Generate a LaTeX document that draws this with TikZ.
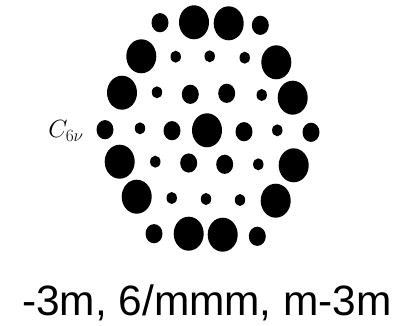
\documentclass[tikz,border=0pt]{standalone}
\usepackage{fontspec}
\setmainfont{Liberation Sans}
\begin{document}
\begin{tikzpicture}[x=1pt, y=-1pt, line join=round, line cap=round]
	\useasboundingbox (0,0) rectangle (401,326);
	\fill[white] (0,0) rectangle (401,326);
	\def \rlon{15} %large spots
	\def \hlon{17}
	\def \rvua{8.5}
	\def \hvua{9.6}
	\def \rnho{5.2}
	\def \hnho{6}
	\foreach \x/\y in {194/22.3, 228.7/23.3, 141.3/56.3, 276.3/62.3, 122/92.7, 292.7/97.7, 207/130.3, 119.7/161.7, 293.7/165.3, 136.7/196.7, 275.7/200.7, 188.7/233.7, 222.7/234.7}
		\fill (\x,\y) ellipse [x radius=\rlon, y radius=\hlon];
	\foreach \x/\y in {160/22.7, 260.3/25.3, 190.3/94.3, 226.7/93.3, 105/129.7, 172/130.7, 244/131.7, 311/132.3, 188.7/163, 224.7/164.3, 154/233.7, 257.3/236.3}
		\fill (\x,\y) ellipse [x radius=\rvua, y radius=\hvua];
	\foreach \x/\y in {175.7/56.7, 209.7/56.3, 244.7/57.7, 157/92.3, 261.7/95, 140/128.3, 277.3/130.3, 155.3/161.7, 258.3/164.3, 171.7/198, 206/199, 240/200}
		\fill (\x,\y) ellipse [x radius=\rnho, y radius=\hnho];
	\node (nhom) at (66,131) {\fontsize{25}{25}\selectfont $C_{6\nu}$};
	\node (lop) at (207,303) {\fontsize{42.4}{42.4}\selectfont -3m, 6/mmm, m-3m};
\end{tikzpicture}
\end{document}
